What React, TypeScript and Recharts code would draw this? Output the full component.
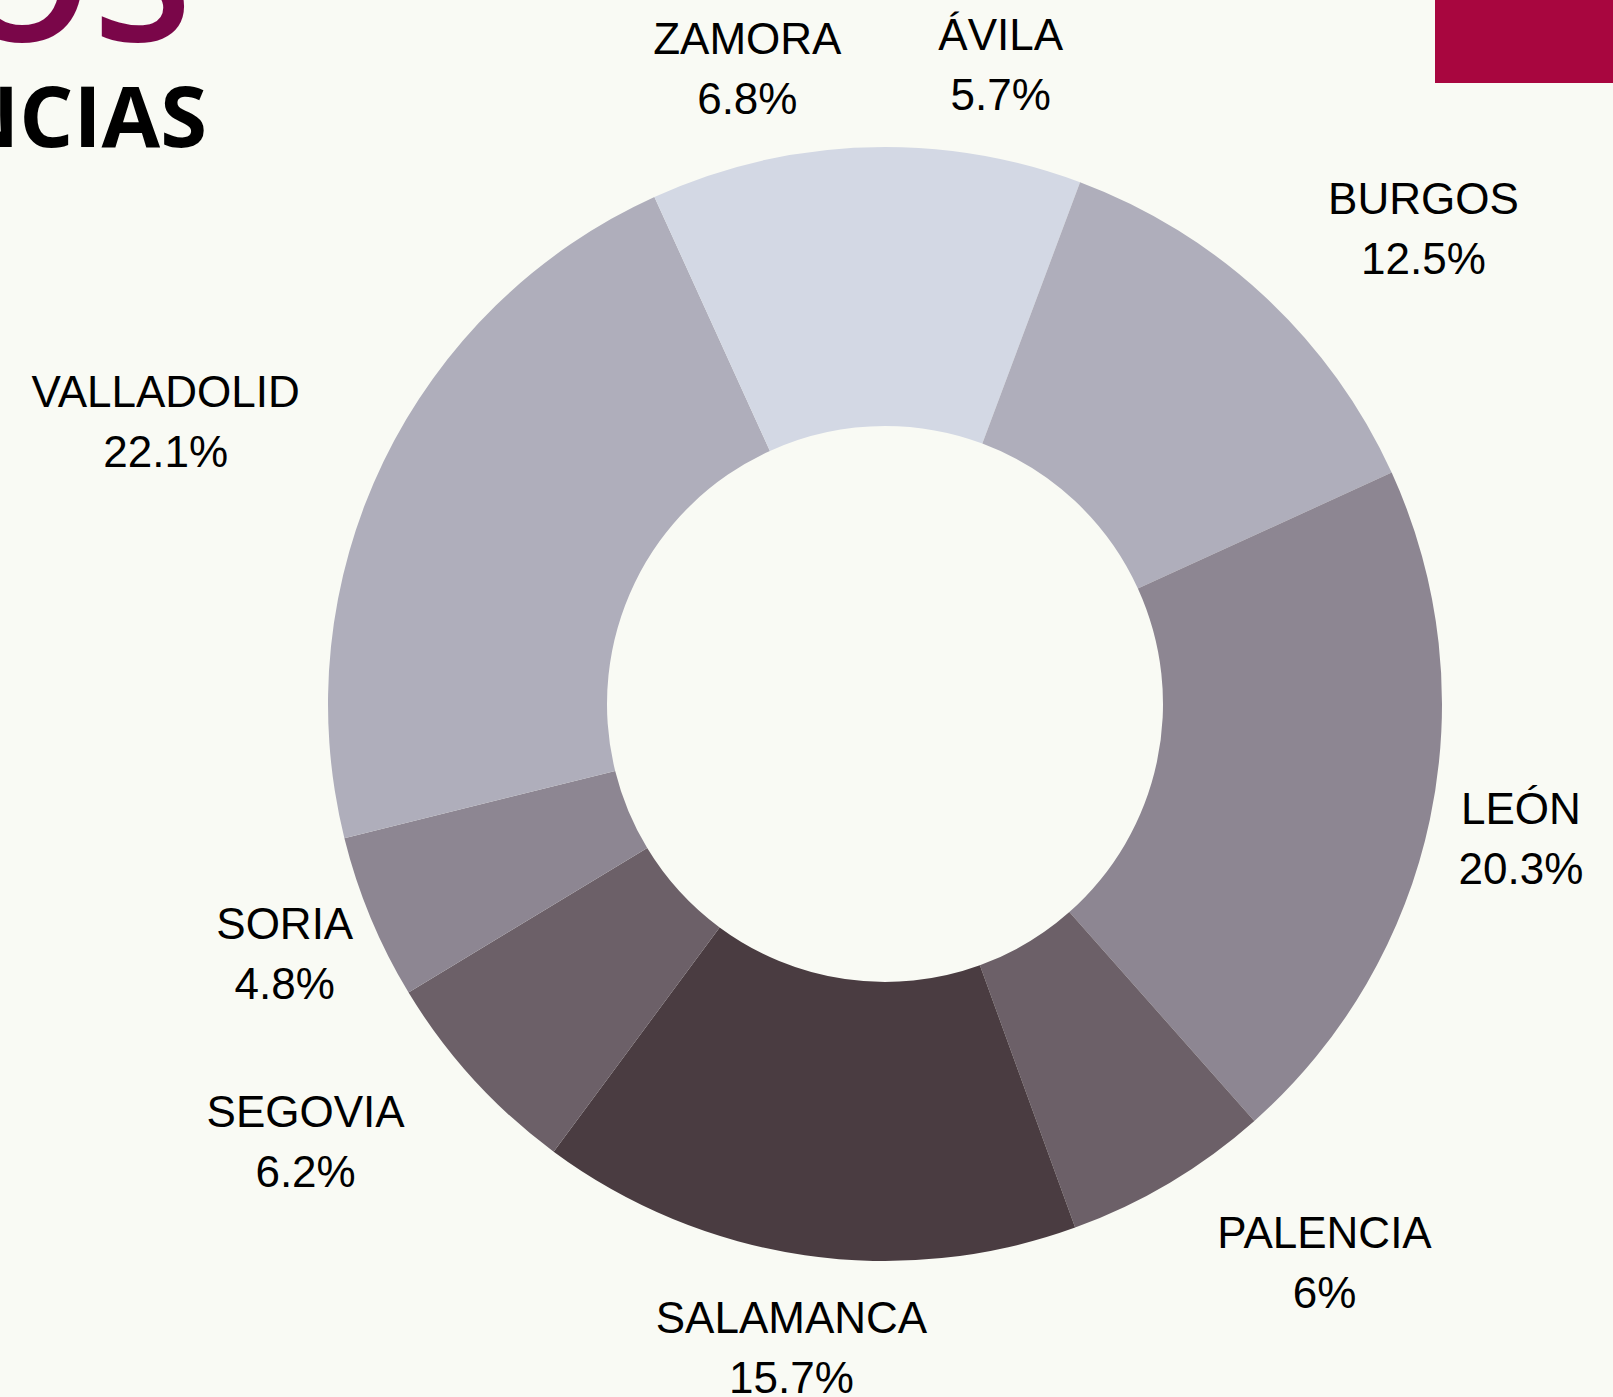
import React from "react";
import { PieChart, Pie, Cell } from "recharts";

const provinces = ["ÁVILA", "BURGOS", "LEÓN", "PALENCIA", "SALAMANCA", "SEGOVIA", "SORIA", "VALLADOLID", "ZAMORA"];
const shares = [5.7, 12.5, 20.3, 6, 15.7, 6.2, 4.8, 22.1, 6.8];
const sliceColors = ["#d3d8e4", "#afaebb", "#8d8692", "#6c6068", "#4a3c41", "#6c6068", "#8d8692", "#afaebb", "#d3d8e4"];

const data = provinces.map((name, i) => ({ name, value: shares[i] }));

const RAD = Math.PI / 180;
const LABEL_R = 650;
const LABEL_FONT = "44px 'Liberation Sans', Arial, sans-serif";

let ctx: CanvasRenderingContext2D | null = null;
const measure = (s: string): number => {
  if (!ctx && typeof document !== "undefined") {
    ctx = document.createElement("canvas").getContext("2d");
  }
  if (!ctx) return s.length * 27;
  ctx.font = LABEL_FONT;
  return ctx.measureText(s).width;
};

const renderLabel = (props: any) => {
  const { cx, cy, midAngle, name, value } = props;
  const px = cx + LABEL_R * Math.cos(-midAngle * RAD);
  const py = cy + LABEL_R * Math.sin(-midAngle * RAD);
  const fromTop = (90 - midAngle) * RAD;
  const diag = Math.abs(Math.sin(2 * fromTop)) > 0.75;
  const pct = `${value}%`;
  const w = Math.max(measure(name), measure(pct));
  const x = diag ? (px > cx ? px + w / 2 : px - w / 2) : px;
  return (
    <text
      x={x}
      y={py}
      textAnchor="middle"
      fill="#000000"
      style={{ fontFamily: "'Liberation Sans', Arial, sans-serif", fontSize: 44 }}
    >
      <tspan x={x} y={py - 30} dominantBaseline="central">{name}</tspan>
      <tspan x={x} y={py + 30} dominantBaseline="central">{pct}</tspan>
    </text>
  );
};

export default function App() {
  return (
    <div
      style={{
        position: "absolute",
        left: 0,
        top: 0,
        width: 1613,
        height: 1397,
        background: "#f9faf4",
        overflow: "hidden",
      }}
    >
      <svg width={1613} height={1397} style={{ position: "absolute", left: 0, top: 0 }}>
        <rect x={1435} y={0} width={178} height={83} fill="#a8063f" />
        <text
          x={192}
          y={41}
          textAnchor="end"
          fill="#7a0649"
          style={{ fontFamily: "'Open Sans', sans-serif", fontWeight: 600, fontSize: 180 }}
        >
          DATOS
        </text>
        <text
          x={207}
          y={147}
          textAnchor="end"
          fill="#000000"
          style={{ fontFamily: "'Open Sans', sans-serif", fontWeight: 700, fontSize: 85 }}
        >
          PROVINCIAS
        </text>
      </svg>
      <div style={{ position: "absolute", left: 0, top: 0 }}>
        <PieChart width={1613} height={1397} margin={{ top: 0, right: 0, bottom: 0, left: 0 }}>
          <Pie
            data={data}
            dataKey="value"
            nameKey="name"
            cx={885}
            cy={704}
            outerRadius={557}
            innerRadius={278}
            startAngle={90}
            endAngle={-270}
            stroke="none"
            label={renderLabel}
            labelLine={false}
            isAnimationActive={false}
          >
            {data.map((d, i) => (
              <Cell key={d.name} fill={sliceColors[i]} />
            ))}
          </Pie>
        </PieChart>
      </div>
    </div>
  );
}
